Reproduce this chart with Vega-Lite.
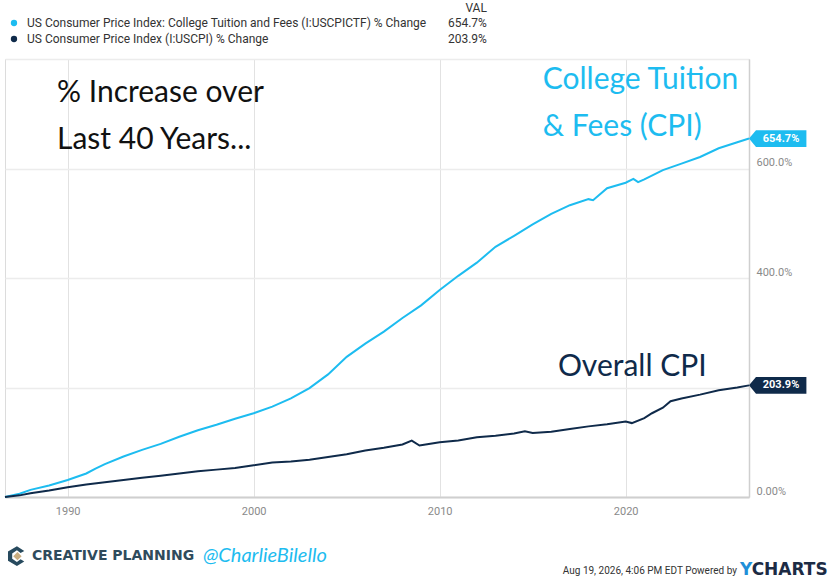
{
  "$schema": "https://vega.github.io/schema/vega-lite/v6.json",
  "autosize": "none",
  "width": 744,
  "height": 438,
  "padding": {"left": 5, "top": 59, "right": 89, "bottom": 82},
  "background": "white",
  "datasets": {
    "series": [
      {"date": "1986-08-19", "series": "tuition", "value": 0},
      {"date": "1987-06-01", "series": "tuition", "value": 6},
      {"date": "1988-01-01", "series": "tuition", "value": 13},
      {"date": "1989-01-01", "series": "tuition", "value": 21},
      {"date": "1990-01-01", "series": "tuition", "value": 31},
      {"date": "1991-01-01", "series": "tuition", "value": 43},
      {"date": "1991-07-01", "series": "tuition", "value": 52},
      {"date": "1992-01-01", "series": "tuition", "value": 60},
      {"date": "1993-01-01", "series": "tuition", "value": 74},
      {"date": "1994-01-01", "series": "tuition", "value": 86},
      {"date": "1995-01-01", "series": "tuition", "value": 97},
      {"date": "1996-01-01", "series": "tuition", "value": 110},
      {"date": "1997-01-01", "series": "tuition", "value": 122},
      {"date": "1998-01-01", "series": "tuition", "value": 132},
      {"date": "1999-01-01", "series": "tuition", "value": 143},
      {"date": "2000-01-01", "series": "tuition", "value": 153},
      {"date": "2001-01-01", "series": "tuition", "value": 165},
      {"date": "2002-01-01", "series": "tuition", "value": 180},
      {"date": "2003-01-01", "series": "tuition", "value": 199},
      {"date": "2004-01-01", "series": "tuition", "value": 224},
      {"date": "2005-01-01", "series": "tuition", "value": 256},
      {"date": "2006-01-01", "series": "tuition", "value": 280},
      {"date": "2007-01-01", "series": "tuition", "value": 302},
      {"date": "2008-01-01", "series": "tuition", "value": 327},
      {"date": "2009-01-01", "series": "tuition", "value": 350},
      {"date": "2010-01-01", "series": "tuition", "value": 378},
      {"date": "2011-01-01", "series": "tuition", "value": 404},
      {"date": "2012-01-01", "series": "tuition", "value": 428},
      {"date": "2013-01-01", "series": "tuition", "value": 457},
      {"date": "2014-01-01", "series": "tuition", "value": 477},
      {"date": "2015-01-01", "series": "tuition", "value": 498},
      {"date": "2016-01-01", "series": "tuition", "value": 517},
      {"date": "2017-01-01", "series": "tuition", "value": 533},
      {"date": "2018-01-01", "series": "tuition", "value": 544},
      {"date": "2018-04-01", "series": "tuition", "value": 542},
      {"date": "2019-01-01", "series": "tuition", "value": 564},
      {"date": "2020-01-01", "series": "tuition", "value": 574},
      {"date": "2020-06-01", "series": "tuition", "value": 581},
      {"date": "2020-09-01", "series": "tuition", "value": 575},
      {"date": "2021-01-01", "series": "tuition", "value": 580},
      {"date": "2022-01-01", "series": "tuition", "value": 597},
      {"date": "2023-01-01", "series": "tuition", "value": 609},
      {"date": "2024-01-01", "series": "tuition", "value": 621},
      {"date": "2025-01-01", "series": "tuition", "value": 637},
      {"date": "2026-01-01", "series": "tuition", "value": 648},
      {"date": "2026-08-19", "series": "tuition", "value": 654.7},
      {"date": "1986-08-19", "series": "cpi", "value": 0},
      {"date": "1987-06-01", "series": "cpi", "value": 3},
      {"date": "1988-01-01", "series": "cpi", "value": 7},
      {"date": "1989-01-01", "series": "cpi", "value": 12},
      {"date": "1990-01-01", "series": "cpi", "value": 18},
      {"date": "1991-01-01", "series": "cpi", "value": 23},
      {"date": "1992-01-01", "series": "cpi", "value": 27},
      {"date": "1993-01-01", "series": "cpi", "value": 31},
      {"date": "1994-01-01", "series": "cpi", "value": 35},
      {"date": "1995-01-01", "series": "cpi", "value": 39},
      {"date": "1996-01-01", "series": "cpi", "value": 43},
      {"date": "1997-01-01", "series": "cpi", "value": 47},
      {"date": "1998-01-01", "series": "cpi", "value": 50},
      {"date": "1999-01-01", "series": "cpi", "value": 53},
      {"date": "2000-01-01", "series": "cpi", "value": 58},
      {"date": "2001-01-01", "series": "cpi", "value": 63},
      {"date": "2002-01-01", "series": "cpi", "value": 65},
      {"date": "2003-01-01", "series": "cpi", "value": 68},
      {"date": "2004-01-01", "series": "cpi", "value": 73},
      {"date": "2005-01-01", "series": "cpi", "value": 78},
      {"date": "2006-01-01", "series": "cpi", "value": 85},
      {"date": "2007-01-01", "series": "cpi", "value": 90},
      {"date": "2008-01-01", "series": "cpi", "value": 96},
      {"date": "2008-07-01", "series": "cpi", "value": 103},
      {"date": "2008-12-01", "series": "cpi", "value": 94},
      {"date": "2009-06-01", "series": "cpi", "value": 97},
      {"date": "2010-01-01", "series": "cpi", "value": 100},
      {"date": "2011-01-01", "series": "cpi", "value": 103},
      {"date": "2012-01-01", "series": "cpi", "value": 109},
      {"date": "2013-01-01", "series": "cpi", "value": 112},
      {"date": "2014-01-01", "series": "cpi", "value": 116},
      {"date": "2014-08-01", "series": "cpi", "value": 120},
      {"date": "2015-01-01", "series": "cpi", "value": 117},
      {"date": "2016-01-01", "series": "cpi", "value": 119},
      {"date": "2017-01-01", "series": "cpi", "value": 124},
      {"date": "2018-01-01", "series": "cpi", "value": 129},
      {"date": "2019-01-01", "series": "cpi", "value": 133},
      {"date": "2020-01-01", "series": "cpi", "value": 138},
      {"date": "2020-05-01", "series": "cpi", "value": 135},
      {"date": "2021-01-01", "series": "cpi", "value": 144},
      {"date": "2021-06-01", "series": "cpi", "value": 153},
      {"date": "2022-01-01", "series": "cpi", "value": 163},
      {"date": "2022-06-01", "series": "cpi", "value": 175},
      {"date": "2023-01-01", "series": "cpi", "value": 180},
      {"date": "2024-01-01", "series": "cpi", "value": 187},
      {"date": "2025-01-01", "series": "cpi", "value": 195},
      {"date": "2026-01-01", "series": "cpi", "value": 200},
      {"date": "2026-08-19", "series": "cpi", "value": 203.9}
    ]
  },
  "data": {"name": "series"},
  "config": {
    "font": "Roboto",
    "view": {"stroke": "#dcdcdc", "strokeWidth": 1}
  },
  "encoding": {
    "x": {
      "field": "date",
      "type": "temporal",
      "scale": {"domain": ["1986-08-19", "2026-08-19"], "nice": false},
      "axis": {
        "title": null,
        "values": [{"year": 1990}, {"year": 2000}, {"year": 2010}, {"year": 2020}],
        "format": "%Y",
        "grid": true,
        "gridColor": "#e2e2e2",
        "ticks": false,
        "domainColor": "#cfcfcf",
        "domainWidth": 2,
        "labelColor": "#8a8a8a",
        "labelFont": "Roboto",
        "labelFontSize": 11,
        "labelPadding": 8,
        "labelFlush": false
      }
    },
    "y": {
      "field": "value",
      "type": "quantitative",
      "scale": {"domain": [0, 800], "nice": false},
      "axis": {
        "title": null,
        "orient": "right",
        "values": [0, 200, 400, 600, 800],
        "labelExpr": "datum.value == 0 ? '0.00%' : (datum.value == 200 || datum.value == 800) ? '' : format(datum.value, '.1f') + '%'",
        "ticks": false,
        "domainColor": "#cfcfcf",
        "domainWidth": 1.5,
        "gridColor": "#ececec",
        "gridWidth": 1.5,
        "labelColor": "#8a8a8a",
        "labelFont": "Roboto",
        "labelFontSize": 11,
        "labelPadding": 7,
        "labelBaseline": "middle",
        "labelOffset": -6
      }
    }
  },
  "layer": [
    {
      "mark": {"type": "line", "strokeWidth": 2, "interpolate": "linear"},
      "encoding": {
        "color": {
          "field": "series",
          "type": "nominal",
          "scale": {"domain": ["tuition", "cpi"], "range": ["#1dbcf0", "#0f2a4a"]},
          "legend": {
            "orient": "none",
            "legendX": 3,
            "legendY": -42,
            "title": null,
            "padding": 0,
            "symbolType": "circle",
            "symbolSize": 40,
            "symbolStrokeWidth": 0,
            "labelFont": "Roboto",
            "labelFontSize": 12,
            "labelColor": "#333333",
            "labelOffset": 7,
            "labelLimit": 500,
            "rowPadding": 4,
            "labelExpr": "datum.label == 'tuition' ? 'US Consumer Price Index: College Tuition and Fees (I:USCPICTF) % Change' : 'US Consumer Price Index (I:USCPI) % Change'"
          }
        }
      }
    },
    {
      "transform": [
        {"window": [{"op": "row_number", "as": "rn"}], "groupby": ["series"], "sort": [{"field": "date", "order": "descending"}]},
        {"filter": "datum.rn == 1"}
      ],
      "mark": {
        "type": "point",
        "filled": true,
        "opacity": 1,
        "size": 3136,
        "shape": "M0,0 L0.25,-0.3 L2.05,-0.3 L2.05,0.3 L0.25,0.3 Z"
      },
      "encoding": {
        "color": {"field": "series", "type": "nominal", "legend": null}
      }
    },
    {
      "transform": [
        {"window": [{"op": "row_number", "as": "rn"}], "groupby": ["series"], "sort": [{"field": "date", "order": "descending"}]},
        {"filter": "datum.rn == 1"},
        {"calculate": "format(datum.value, '.1f') + '%'", "as": "label"}
      ],
      "mark": {"type": "text", "dx": 32, "align": "center", "baseline": "middle", "font": "Roboto", "fontWeight": "bold", "fontSize": 11, "color": "white"},
      "encoding": {"text": {"field": "label"}}
    },
    {
      "transform": [
        {"window": [{"op": "row_number", "as": "rn"}], "groupby": ["series"], "sort": [{"field": "date", "order": "descending"}]},
        {"filter": "datum.rn == 1 && datum.series == 'tuition'"},
        {"calculate": "format(datum.value, '.1f') + '%'", "as": "label"}
      ],
      "mark": {"type": "text", "align": "right", "baseline": "middle", "font": "Roboto", "fontSize": 12, "color": "#333333"},
      "encoding": {
        "x": {"datum": {"year": 2012, "month": 7, "date": 16}},
        "y": {"datum": 866},
        "text": {"field": "label"}
      }
    },
    {
      "transform": [
        {"window": [{"op": "row_number", "as": "rn"}], "groupby": ["series"], "sort": [{"field": "date", "order": "descending"}]},
        {"filter": "datum.rn == 1 && datum.series == 'cpi'"},
        {"calculate": "format(datum.value, '.1f') + '%'", "as": "label"}
      ],
      "mark": {"type": "text", "align": "right", "baseline": "middle", "font": "Roboto", "fontSize": 12, "color": "#333333"},
      "encoding": {
        "x": {"datum": {"year": 2012, "month": 7, "date": 16}},
        "y": {"datum": 836.5},
        "text": {"field": "label"}
      }
    },
    {
      "transform": [{"filter": "datum.series == 'tuition' && datum.value == 0"}],
      "mark": {"type": "text", "align": "right", "baseline": "middle", "font": "Roboto", "fontSize": 12, "color": "#333333", "text": "VAL"},
      "encoding": {
        "x": {"datum": {"year": 2012, "month": 7, "date": 16}},
        "y": {"datum": 893}
      }
    },
    {
      "transform": [{"filter": "datum.series == 'tuition' && datum.value == 0"}],
      "mark": {"type": "text", "align": "left", "baseline": "middle", "font": "Lato", "fontSize": 30, "color": "#111111", "text": "% Increase over"},
      "encoding": {
        "x": {"datum": {"year": 1989, "month": 6, "date": 5}},
        "y": {"datum": 738}
      }
    },
    {
      "transform": [{"filter": "datum.series == 'tuition' && datum.value == 0"}],
      "mark": {"type": "text", "align": "left", "baseline": "middle", "font": "Lato", "fontSize": 30, "color": "#111111", "text": "Last 40 Years..."},
      "encoding": {
        "x": {"datum": {"year": 1989, "month": 6, "date": 5}},
        "y": {"datum": 652}
      }
    },
    {
      "transform": [{"filter": "datum.series == 'tuition' && datum.value == 0"}],
      "mark": {"type": "text", "align": "left", "baseline": "middle", "font": "Lato", "fontSize": 30, "color": "#1dbcf0", "text": "College Tuition"},
      "encoding": {
        "x": {"datum": {"year": 2015, "month": 7, "date": 18}},
        "y": {"datum": 761.6}
      }
    },
    {
      "transform": [{"filter": "datum.series == 'tuition' && datum.value == 0"}],
      "mark": {"type": "text", "align": "left", "baseline": "middle", "font": "Lato", "fontSize": 30, "color": "#1dbcf0", "text": "& Fees (CPI)"},
      "encoding": {
        "x": {"datum": {"year": 2015, "month": 7, "date": 18}},
        "y": {"datum": 675.8}
      }
    },
    {
      "transform": [{"filter": "datum.series == 'tuition' && datum.value == 0"}],
      "mark": {"type": "text", "align": "left", "baseline": "middle", "font": "Lato", "fontSize": 30, "color": "#0f2a4a", "text": "Overall CPI"},
      "encoding": {
        "x": {"datum": {"year": 2016, "month": 5, "date": 10}},
        "y": {"datum": 237.4}
      }
    },
    {
      "transform": [{"filter": "datum.series == 'tuition' && datum.value == 0"}],
      "mark": {"type": "point", "filled": true, "opacity": 1, "color": "#274a5e", "size": 441, "shape": "M0.7,-0.5 L0,-0.95 L-0.85,-0.45 L-0.85,0.45 L0,0.95 L0.7,0.5 L0.35,0.3 L0,0.55 L-0.45,0.25 L-0.45,-0.25 L0,-0.55 L0.35,-0.3 Z"},
      "encoding": {
        "x": {"datum": {"year": 1987, "month": 4, "date": 10}},
        "y": {"datum": -108}
      }
    },
    {
      "transform": [{"filter": "datum.series == 'tuition' && datum.value == 0"}],
      "mark": {"type": "point", "filled": true, "opacity": 1, "color": "#c9ad80", "size": 441, "shape": "M0.05,-0.4 L0.45,0 L0.05,0.4 L-0.35,0 Z"},
      "encoding": {
        "x": {"datum": {"year": 1987, "month": 4, "date": 10}},
        "y": {"datum": -108}
      }
    },
    {
      "transform": [{"filter": "datum.series == 'tuition' && datum.value == 0"}],
      "mark": {"type": "text", "align": "left", "baseline": "middle", "font": "DejaVu Sans", "fontWeight": "bold", "fontSize": 14, "color": "#2f4b5c", "text": "CREATIVE PLANNING"},
      "encoding": {
        "x": {"datum": {"year": 1988, "month": 1, "date": 30}},
        "y": {"datum": -108}
      }
    },
    {
      "transform": [{"filter": "datum.series == 'tuition' && datum.value == 0"}],
      "mark": {"type": "text", "align": "left", "baseline": "middle", "font": "Lato", "fontStyle": "italic", "fontSize": 20, "color": "#1dbcf0", "text": "@CharlieBilello"},
      "encoding": {
        "x": {"datum": {"year": 1997, "month": 4, "date": 10}},
        "y": {"datum": -108}
      }
    },
    {
      "transform": [{"filter": "datum.series == 'tuition' && datum.value == 0"}],
      "mark": {"type": "text", "align": "right", "baseline": "middle", "font": "Roboto", "fontSize": 10, "color": "#333333", "text": "Aug 19, 2026, 4:06 PM EDT Powered by"},
      "encoding": {
        "x": {"datum": {"year": 2025, "month": 12, "date": 25}},
        "y": {"datum": -135}
      }
    },
    {
      "transform": [{"filter": "datum.series == 'tuition' && datum.value == 0"}],
      "mark": {"type": "text", "align": "left", "baseline": "middle", "font": "DejaVu Sans", "fontWeight": "bold", "fontSize": 17, "color": "#1f8fd8", "text": "Y"},
      "encoding": {
        "x": {"datum": {"year": 2026, "month": 2, "date": 24}},
        "y": {"datum": -134}
      }
    },
    {
      "transform": [{"filter": "datum.series == 'tuition' && datum.value == 0"}],
      "mark": {"type": "text", "align": "left", "baseline": "middle", "font": "DejaVu Sans", "fontWeight": "bold", "fontSize": 17, "color": "#1c2b44", "text": "CHARTS"},
      "encoding": {
        "x": {"datum": {"year": 2026, "month": 10, "date": 10}},
        "y": {"datum": -134}
      }
    }
  ]
}
